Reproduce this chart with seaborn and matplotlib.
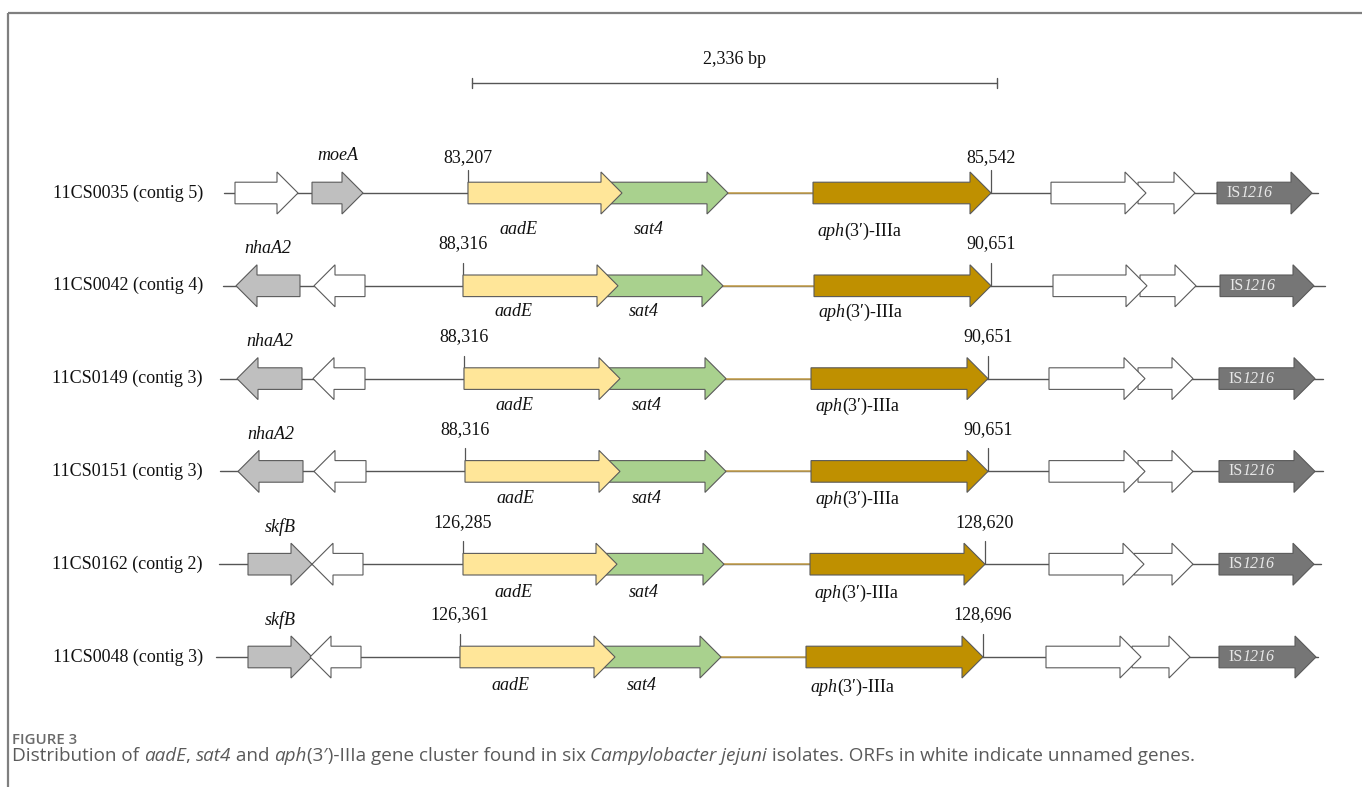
import numpy as np
import pandas as pd
import matplotlib
matplotlib.use("Agg")
import matplotlib.pyplot as plt
import seaborn as sns
from matplotlib.patches import Polygon

# ---- data (x in map units of the drawing) ----
isolates = ['11CS0035 (contig 5)', '11CS0042 (contig 4)', '11CS0149 (contig 3)',
            '11CS0151 (contig 3)', '11CS0162 (contig 2)', '11CS0048 (contig 3)']
line_start = [224, 223, 220, 220, 219, 216]
line_end = [1318, 1325, 1323, 1323, 1321, 1318]

left1_start = [235, 236, 237, 238, 248, 248]
left1_end = [298, 300, 302, 303, 312, 312]
left1_strand = [1, -1, -1, -1, 1, 1]
left1_name = ['', 'nhaA2', 'nhaA2', 'nhaA2', 'skfB', 'skfB']

left2_start = [312, 314, 313, 314, 312, 310]
left2_end = [363, 365, 365, 366, 363, 361]
left2_strand = [1, -1, -1, -1, -1, -1]
left2_name = ['moeA', '', '', '', '', '']

aadE_start = [468, 463, 464, 465, 463, 460]
aadE_end = [622, 618, 620, 620, 617, 615]
sat4_start = [602, 597, 600, 600, 597, 595]
sat4_end = [728, 723, 726, 726, 724, 721]
aph_start = [813, 814, 811, 811, 810, 806]
aph_end = [991, 991, 988, 988, 985, 983]

right1_start = [1051, 1053, 1049, 1049, 1049, 1046]
right1_end = [1146, 1147, 1145, 1145, 1144, 1141]
right2_start = [1138, 1140, 1138, 1138, 1134, 1132]
right2_end = [1195, 1196, 1193, 1193, 1193, 1190]
is_start = [1217, 1220, 1219, 1219, 1219, 1219]
is_end = [1312, 1314, 1315, 1315, 1314, 1316]

cluster_start_label = ['83,207', '88,316', '88,316', '88,316', '126,285', '126,361']
cluster_end_label = ['85,542', '90,651', '90,651', '90,651', '128,620', '128,696']

scale_start, scale_end = 472, 997
scale_label = '2,336 bp'

caption_parts = [
    ('Distribution of ', 'normal'), ('aadE', 'italic'), (', ', 'normal'),
    ('sat4', 'italic'), (' and ', 'normal'), ('aph', 'italic'),
    ('(3\u2032)-IIIa gene cluster found in six ', 'normal'),
    ('Campylobacter jejuni', 'italic'),
    (' isolates. ORFs in white indicate unnamed genes.', 'normal'),
]

# ---- styling ----
sns.set_theme(style='white')
plt.rcParams['font.family'] = ['Liberation Serif', 'DejaVu Serif']

C_WHITE = '#ffffff'
C_NAMED = '#bfbfbf'
C_AADE = '#ffe699'
C_SAT4 = '#a9d18e'
C_APH = '#bf9000'
C_IS = '#767676'
EDGE = '#5a5a5a'
LINE = '#555555'
GAP_LINE = '#c9a24c'

ROW_Y0, ROW_GAP = 193, 92.8
BH, HH, HEAD = 10.8, 21, 21
FS = 13

fig = plt.figure(figsize=(13.62, 7.87), dpi=100)
ax = fig.add_axes([0, 0, 1, 1])
renderer = fig.canvas.get_renderer()

row_y = [ROW_Y0 + i * ROW_GAP for i in range(len(isolates))]
num_off = [-35, -42, -42, -42, -42, -42]
below_off = [37, 26, 27, 27, 28, 29]


def gene_arrow(x0, x1, y, strand, fc, z=3):
    hl = min(HEAD, x1 - x0)
    if strand > 0:
        b = x1 - hl
        pts = [(x0, y - BH), (b, y - BH), (b, y - HH), (x1, y),
               (b, y + HH), (b, y + BH), (x0, y + BH)]
    else:
        b = x0 + hl
        pts = [(x1, y - BH), (b, y - BH), (b, y - HH), (x0, y),
               (b, y + HH), (b, y + BH), (x1, y + BH)]
    ax.add_patch(Polygon(pts, closed=True, fc=fc, ec=EDGE, lw=0.8,
                         zorder=z, joinstyle='miter'))


def advance(s, style, **kw):
    # width including leading/trailing spaces, measured between bars
    t1 = ax.text(0, 0, '|' + s + '|', fontstyle=style, **kw)
    t2 = ax.text(0, 0, '||', fontstyle=style, **kw)
    w = t1.get_window_extent(renderer).width - t2.get_window_extent(renderer).width
    t1.remove()
    t2.remove()
    return w


def rich_text(x, y, parts, ha='left', **kw):
    items, cur = [], x
    for s, style in parts:
        t = ax.text(cur, y, s, ha='left', va='center', fontstyle=style, **kw)
        items.append(t)
        cur += advance(s, style, **{k: v for k, v in kw.items() if k != 'zorder'})
    shift = (cur - x) / 2 if ha == 'center' else 0
    for t in items:
        t.set_x(t.get_position()[0] - shift)


# backbones through seaborn
bb = pd.DataFrame({
    'row': np.repeat(np.arange(len(isolates)), 2),
    'x': np.ravel(np.column_stack([line_start, line_end])),
    'y': np.repeat(row_y, 2),
})
sns.lineplot(data=bb, x='x', y='y', units='row', estimator=None, sort=False,
             color=LINE, lw=1.0, ax=ax, zorder=1)
gap = pd.DataFrame({
    'row': np.repeat(np.arange(len(isolates)), 2),
    'x': np.ravel(np.column_stack([sat4_end, aph_start])),
    'y': np.repeat(row_y, 2),
})
sns.lineplot(data=gap, x='x', y='y', units='row', estimator=None, sort=False,
             color=GAP_LINE, lw=1.1, ax=ax, zorder=1.5)
ax.set_xlim(0, 1362)
ax.set_ylim(787, 0)
ax.axis('off')

for i, y in enumerate(row_y):
    ax.text(203, y, isolates[i], ha='right', va='center', fontsize=FS, color='#111')

    # left flank
    gene_arrow(left1_start[i], left1_end[i], y, left1_strand[i],
               C_NAMED if left1_name[i] else C_WHITE)
    gene_arrow(left2_start[i], left2_end[i], y, left2_strand[i],
               C_NAMED if left2_name[i] else C_WHITE)
    for s, e, n in [(left1_start[i], left1_end[i], left1_name[i]),
                    (left2_start[i], left2_end[i], left2_name[i])]:
        if n:
            ax.text((s + e) / 2, y - 37, n, ha='center', va='center',
                    fontsize=FS, fontstyle='italic', color='#111')

    # resistance cluster
    for xx in (aadE_start[i], aph_end[i]):
        ax.plot([xx, xx], [y, y - 23], color=LINE, lw=0.9, zorder=2)
    gene_arrow(sat4_start[i], sat4_end[i], y, 1, C_SAT4, z=3)
    gene_arrow(aadE_start[i], aadE_end[i], y, 1, C_AADE, z=4)
    gene_arrow(aph_start[i], aph_end[i], y, 1, C_APH, z=3)
    ax.text(aadE_start[i], y + num_off[i], cluster_start_label[i], ha='center',
            va='center', fontsize=FS, color='#111')
    ax.text(aph_end[i], y + num_off[i], cluster_end_label[i], ha='center',
            va='center', fontsize=FS, color='#111')
    ax.text(aadE_start[i] + 50, y + below_off[i], 'aadE', ha='center', va='center',
            fontsize=FS, fontstyle='italic', color='#111')
    ax.text(sat4_start[i] + 47, y + below_off[i], 'sat4', ha='center', va='center',
            fontsize=FS, fontstyle='italic', color='#111')
    rich_text(aph_start[i] + 46, y + below_off[i] + 1,
              [('aph', 'italic'), ('(3\u2032)-IIIa', 'normal')],
              ha='center', fontsize=FS, color='#111')

    # right flank
    gene_arrow(right2_start[i], right2_end[i], y, 1, C_WHITE, z=3)
    gene_arrow(right1_start[i], right1_end[i], y, 1, C_WHITE, z=4)
    gene_arrow(is_start[i], is_end[i], y, 1, C_IS, z=3)
    rich_text(is_start[i] + 9, y, [('IS', 'normal'), ('1216', 'italic')],
              fontsize=11.5, color='#e8e8e8', zorder=5)

# scale bar
sy = 83
ax.plot([scale_start, scale_end], [sy, sy], color=LINE, lw=1.0)
for xx in (scale_start, scale_end):
    ax.plot([xx, xx], [sy - 5, sy + 5], color=LINE, lw=1.0)
ax.text((scale_start + scale_end) / 2, sy - 24, scale_label, ha='center',
        va='center', fontsize=FS, color='#111')

# frame
ax.plot([8, 1362], [13, 13], color='#7f7f7f', lw=1.6, solid_capstyle='butt')
ax.plot([8, 8], [13, 787], color='#7f7f7f', lw=1.6, solid_capstyle='butt')

# caption
ax.text(12, 740, 'FIGURE 3', ha='left', va='center', fontsize=10.8,
        family='Open Sans', fontweight='semibold', color='#6a6a6a')
rich_text(12, 756, caption_parts, fontsize=13.6, family='Open Sans',
          color='#5a5a5a')

fig.savefig('out.png', dpi=100)
